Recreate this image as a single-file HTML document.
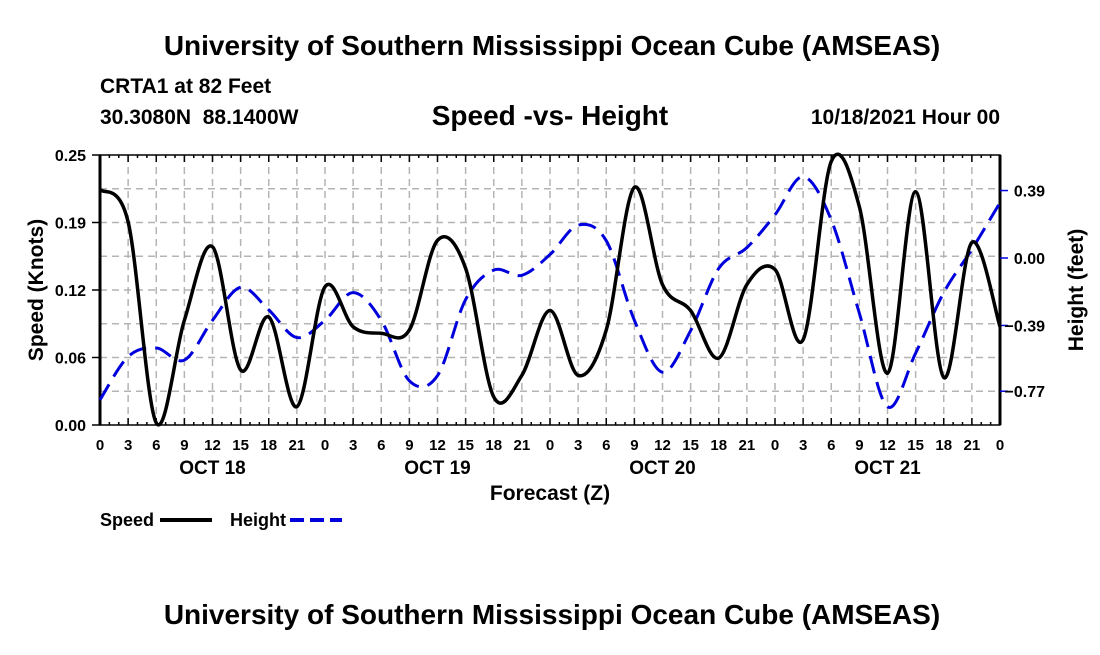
<!DOCTYPE html>
<html><head><meta charset="utf-8"><style>
body{margin:0;background:#fff;}
svg text{font-family:"Liberation Sans",sans-serif;font-weight:bold;}
</style></head><body>
<svg id="chart" width="1100" height="650" xmlns="http://www.w3.org/2000/svg">
<rect width="1100" height="650" fill="#fff"/>
<text x="552" y="55" font-size="28" text-anchor="middle">University of Southern Mississippi Ocean Cube (AMSEAS)</text>
<text x="100" y="93" font-size="21">CRTA1 at 82 Feet</text>
<text x="100" y="124" font-size="21" xml:space="preserve">30.3080N  88.1400W</text>
<text x="550" y="125" font-size="28" text-anchor="middle">Speed -vs- Height</text>
<text x="1000" y="124" font-size="21" text-anchor="end">10/18/2021 Hour 00</text>
<g id="grid"></g>
<g id="axes"></g>
<g id="series"></g>
<text transform="translate(43,290) rotate(-90)" font-size="21" text-anchor="middle">Speed (Knots)</text>
<text transform="translate(1083,290) rotate(-90)" font-size="21" text-anchor="middle">Height (feet)</text>
<text x="550" y="500" font-size="21" text-anchor="middle">Forecast (Z)</text>
<g>
<text x="100" y="526" font-size="18">Speed</text>
<line x1="160" y1="520" x2="212" y2="520" stroke="#000" stroke-width="4"/>
<text x="230" y="526" font-size="18">Height</text>
<line x1="290" y1="520" x2="342" y2="520" stroke="#0000dd" stroke-width="4" stroke-dasharray="14,6"/>
</g>
<text x="552" y="624" font-size="28" text-anchor="middle">University of Southern Mississippi Ocean Cube (AMSEAS)</text>
</svg>
<script>
const hours = [0,3,6,9,12,15,18,21,24,27,30,33,36,39,42,45,48,51,54,57,60,63,66,69,72,75,78,81,84,87,90,93,96];
const speedValues = [0.218,0.188,0.002,0.097,0.165,0.051,0.100,0.017,0.128,0.091,0.085,0.088,0.171,0.145,0.026,0.046,0.106,0.046,0.088,0.220,0.130,0.106,0.062,0.130,0.144,0.079,0.244,0.202,0.048,0.216,0.044,0.169,0.091];
const heightValues = [-0.82,-0.57,-0.52,-0.59,-0.36,-0.17,-0.30,-0.46,-0.36,-0.20,-0.36,-0.71,-0.68,-0.24,-0.07,-0.10,0.02,0.19,0.10,-0.36,-0.66,-0.42,-0.06,0.06,0.25,0.47,0.22,-0.32,-0.86,-0.55,-0.20,0.05,0.32];
const speedTicks = [0,0.0625,0.125,0.1875,0.25];
const speedTickLabels = ["0.00","0.06","0.12","0.19","0.25"];
const heightTicks = [0.39,0,-0.39,-0.77];
const heightTickLabels = ["0.39","0.00","\u22120.39","\u22120.77"];
const dayLabels = ["OCT 18","OCT 19","OCT 20","OCT 21"];
const dayCenters = [12,36,60,84];

const NS="http://www.w3.org/2000/svg";
const L=100,R=1000,T=155,B=425;
const xS=h=>L+(R-L)*h/96;
const yS=v=>B-(B-T)*v/0.25;
const yH=v=>258-v*173;
function mk(tag,attrs,parent){const e=document.createElementNS(NS,tag);for(const k in attrs)e.setAttribute(k,attrs[k]);parent.appendChild(e);return e;}
const grid=document.getElementById('grid'),axes=document.getElementById('axes'),series=document.getElementById('series');
for(let h=3;h<96;h+=3){const l=mk('line',{x1:xS(h),x2:xS(h),y1:T,y2:B,stroke:'#b4b4b4','stroke-width':1.5,'stroke-dasharray':'7,5'},grid);

}
for(let v=0.03125;v<0.25;v+=0.03125){const l=mk('line',{x1:L,x2:R,y1:yS(v),y2:yS(v),stroke:'#b4b4b4','stroke-width':1.5,'stroke-dasharray':'7,5'},grid);

}
const fr=mk('rect',{x:L,y:T,width:R-L,height:B-T,fill:'none',stroke:'#000','stroke-width':1.5},axes);


mk('line',{x1:L,x2:L,y1:T,y2:B,stroke:'#000','stroke-width':3},axes);
mk('line',{x1:R,x2:R,y1:T,y2:B,stroke:'#000','stroke-width':3},axes);
for(let h=0;h<=96;h++){const len=h%3===0?7:3;
mk('line',{x1:xS(h),x2:xS(h),y1:B,y2:B-len,stroke:'#000','stroke-width':1.5},axes);
mk('line',{x1:xS(h),x2:xS(h),y1:T,y2:T+len,stroke:'#000','stroke-width':1.5},axes);}
hours.forEach(h=>{const t=mk('text',{x:xS(h),y:450,'font-size':15,'text-anchor':'middle'},axes);t.textContent=String(h%24);

});
dayLabels.forEach((d,i)=>{const t=mk('text',{x:xS(dayCenters[i]),y:474,'font-size':19,'text-anchor':'middle'},axes);t.textContent=d;

});
speedTicks.forEach((v,i)=>{mk('line',{x1:L-8,x2:L,y1:yS(v),y2:yS(v),stroke:'#000','stroke-width':1.5},axes);
const t=mk('text',{x:86,y:yS(v)+6,'font-size':16,'text-anchor':'end'},axes);t.textContent=speedTickLabels[i];

});
heightTicks.forEach((v,i)=>{mk('line',{x1:R,x2:R+8,y1:yH(v),y2:yH(v),stroke:'#0000dd','stroke-width':1.5},axes);
const t=mk('text',{x:1045,y:yH(v)+6,'font-size':16,'text-anchor':'end'},axes);t.textContent=heightTickLabels[i];

});
function spline(pts){let d=`M${pts[0][0]},${pts[0][1]}`;for(let i=0;i<pts.length-1;i++){const p0=pts[Math.max(0,i-1)],p1=pts[i],p2=pts[i+1],p3=pts[Math.min(pts.length-1,i+2)];
d+=` C${p1[0]+(p2[0]-p0[0])/6},${p1[1]+(p2[1]-p0[1])/6} ${p2[0]-(p3[0]-p1[0])/6},${p2[1]-(p3[1]-p1[1])/6} ${p2[0]},${p2[1]}`;}return d;}
const hp=mk('path',{d:spline(hours.map((h,i)=>[xS(h),yH(heightValues[i])])),fill:'none',stroke:'#0000dd','stroke-width':3,'stroke-dasharray':'18,9'},series);


const sp=mk('path',{d:spline(hours.map((h,i)=>[xS(h),yS(speedValues[i])])),fill:'none',stroke:'#000','stroke-width':3.5},series);


</script>
</body></html>
